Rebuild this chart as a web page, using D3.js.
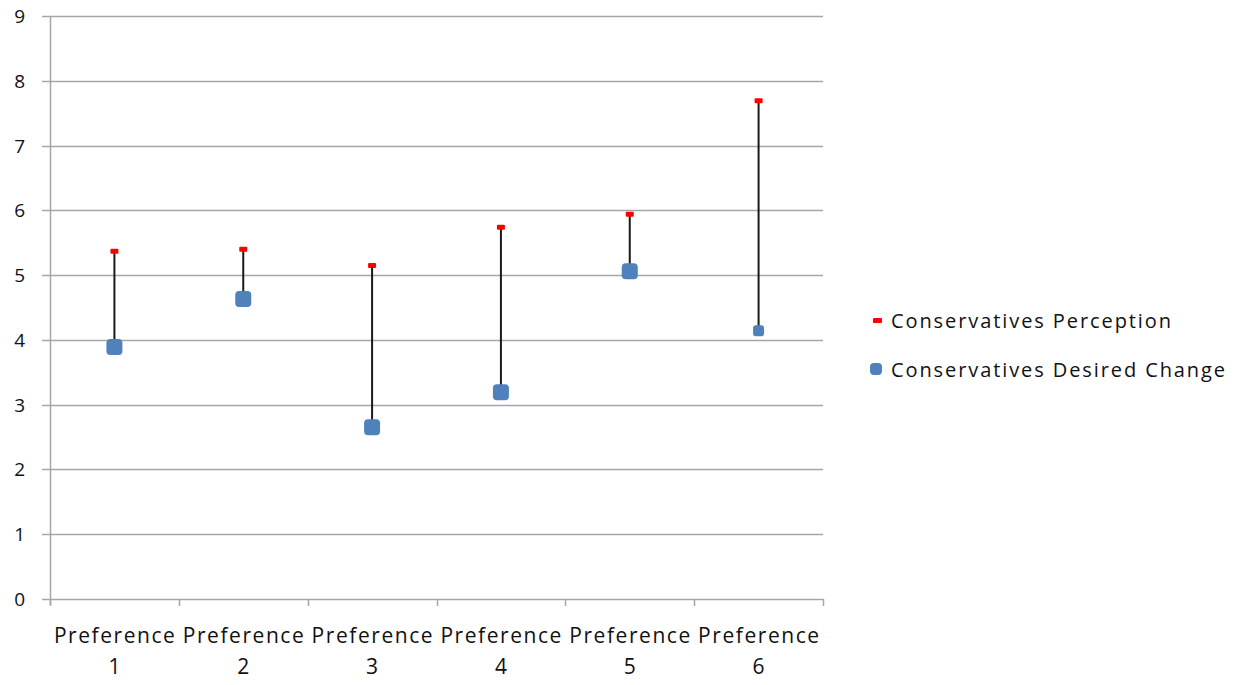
<!DOCTYPE html>
<html>
<head>
<meta charset="utf-8">
<script src="https://cdn.jsdelivr.net/npm/d3@7"></script>
<style>
  html, body { margin: 0; padding: 0; background: #fff; }
  svg { display: block; }
  text { font-family: "Open Sans", "Liberation Sans", sans-serif; fill: #111; }
</style>
</head>
<body>
<svg id="chart" width="1241" height="685"></svg>
<script>
// Chart data
const categories = ["Preference 1", "Preference 2", "Preference 3", "Preference 4", "Preference 5", "Preference 6"];
const perception = [5.37, 5.40, 5.15, 5.74, 5.94, 7.69];
const desiredChange = [3.89, 4.63, 2.65, 3.19, 5.06, 4.14];
const yTicks = [0, 1, 2, 3, 4, 5, 6, 7, 8, 9];
const seriesNames = ["Conservatives Perception", "Conservatives Desired Change"];

const svg = d3.select("#chart");
const plot = { left: 50, right: 823, top: 16, bottom: 599 };

const x = d3.scaleBand().domain(categories).range([plot.left, plot.right]).padding(0);
const y = d3.scaleLinear().domain([0, 9]).range([plot.bottom, plot.top]);

const gridColor = "#a6a6a6";

// Horizontal gridlines (extend left as tick marks)
svg.append("g").selectAll("line").data(yTicks).join("line")
  .attr("x1", plot.left - 8).attr("x2", plot.right)
  .attr("y1", d => Math.round(y(d)) + 0.5).attr("y2", d => Math.round(y(d)) + 0.5)
  .attr("stroke", gridColor).attr("stroke-width", 1.5);

// Y axis line
svg.append("line")
  .attr("x1", plot.left + 0.5).attr("x2", plot.left + 0.5)
  .attr("y1", plot.top).attr("y2", plot.bottom + 6)
  .attr("stroke", gridColor).attr("stroke-width", 1.5);

// Y tick labels
svg.append("g").selectAll("text").data(yTicks).join("text")
  .attr("x", 25).attr("y", d => y(d) + 7)
  .attr("text-anchor", "end").attr("font-size", 19)
  .text(d => d);

// X axis category boundary ticks
const boundaries = categories.map(c => x(c)).concat([plot.right]);
svg.append("g").selectAll("line").data(boundaries).join("line")
  .attr("x1", d => Math.round(d) + 0.5).attr("x2", d => Math.round(d) + 0.5)
  .attr("y1", plot.bottom).attr("y2", plot.bottom + 7)
  .attr("stroke", gridColor).attr("stroke-width", 1.5);

// X category labels (two lines)
const xl = svg.append("g").selectAll("text").data(categories).join("text")
  .attr("text-anchor", "middle").attr("font-size", 21)
  .attr("transform", d => `translate(${x(d) + x.bandwidth() / 2},0)`);
xl.append("tspan").attr("x", 0).attr("y", 643)
  .attr("textLength", 121).attr("lengthAdjust", "spacing")
  .text(d => d.split(" ")[0]);
xl.append("tspan").attr("x", 0).attr("y", 674)
  .text(d => d.split(" ")[1]);

// Drop lines between perception and desired change
const cx = d => x(d) + x.bandwidth() / 2;
svg.append("g").selectAll("line").data(categories).join("line")
  .attr("x1", d => cx(d)).attr("x2", d => cx(d))
  .attr("y1", (d, i) => y(perception[i])).attr("y2", (d, i) => y(desiredChange[i]))
  .attr("stroke", "#1a1a1a").attr("stroke-width", 2);

// Desired change markers (rounded squares)
svg.append("g").selectAll("rect").data(categories).join("rect")
  .each(function (d, i) {
    const s = i === 5 ? 11 : 16;
    d3.select(this)
      .attr("x", cx(d) - s / 2).attr("y", y(desiredChange[i]) - s / 2)
      .attr("width", s).attr("height", s)
      .attr("rx", s * 0.25).attr("ry", s * 0.25);
  })
  .attr("fill", "#4f81bd");

// Perception markers (small red dashes)
svg.append("g").selectAll("rect").data(categories).join("rect")
  .attr("x", d => cx(d) - 4).attr("y", (d, i) => y(perception[i]) - 2.5)
  .attr("width", 8).attr("height", 5).attr("rx", 1)
  .attr("fill", "#ff0000");

// Legend
const legend = svg.append("g");
legend.append("rect").attr("x", 873).attr("y", 318).attr("width", 9).attr("height", 5).attr("rx", 1)
  .attr("fill", "#ff0000");
legend.append("text").attr("x", 891).attr("y", 328).attr("font-size", 20)
  .attr("textLength", 280).attr("lengthAdjust", "spacing")
  .text(seriesNames[0]);
legend.append("rect").attr("x", 870).attr("y", 363).attr("width", 12).attr("height", 12).attr("rx", 4)
  .attr("fill", "#4f81bd");
legend.append("text").attr("x", 891).attr("y", 377).attr("font-size", 20)
  .attr("textLength", 334).attr("lengthAdjust", "spacing")
  .text(seriesNames[1]);
</script>
</body>
</html>
